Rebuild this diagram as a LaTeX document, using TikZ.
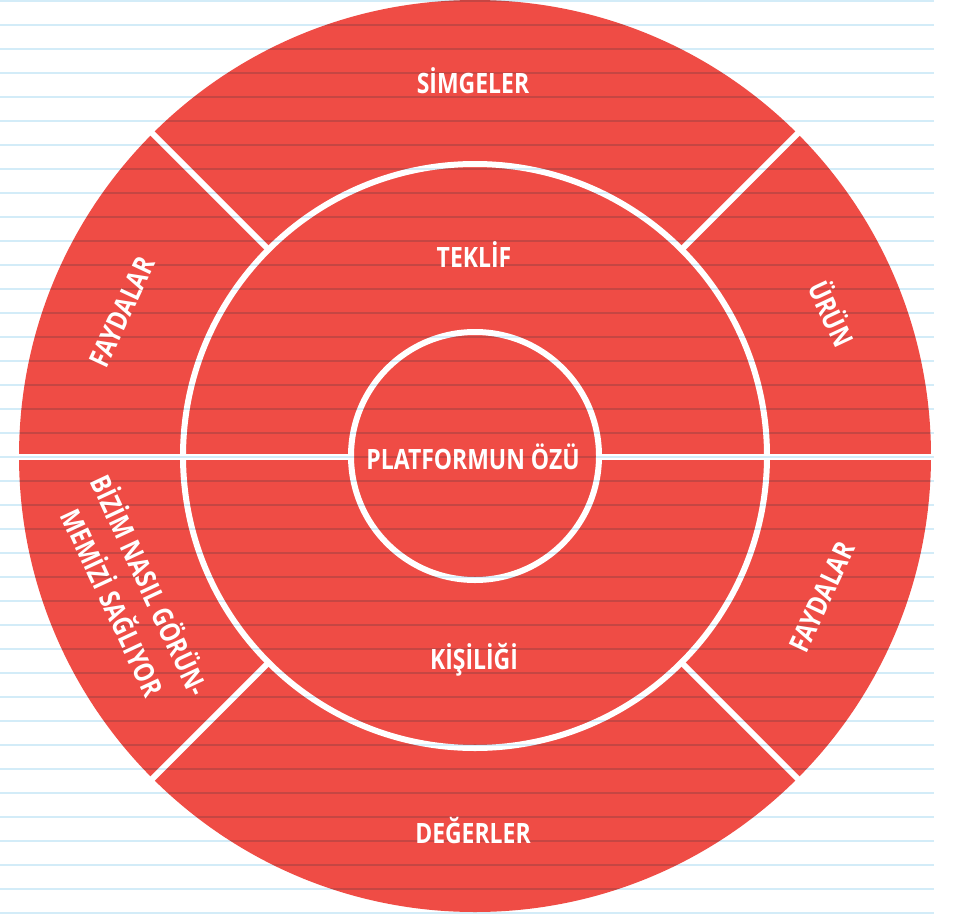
\documentclass[tikz,border=0pt]{standalone}
\usepackage{fontspec}
\setmainfont{Open Sans}[FakeStretch=0.82]
\usetikzlibrary{calc}
\definecolor{platred}{HTML}{EF4C45}
\definecolor{ruleblue}{HTML}{D3ECF8}
\tikzset{
  gap/.style={draw=white,line width=6pt},
  rule/.style={draw=ruleblue,line width=2pt},
  lbl/.style={text=white,font=\bfseries\fontsize{28}{33}\selectfont,align=center,inner sep=0pt}
}
\begin{document}
\begin{tikzpicture}[x=1pt,y=-1pt]
\useasboundingbox[fill=white] (0,0) rectangle (955,915);
\coordinate (c) at (475,456);
\fill[platred] (c) circle (456);
\draw[gap] (c) circle (292);
\draw[gap] (c) circle (124);
\draw[gap] (10,457) -- ($(c)+(-124,1)$);
\draw[gap] ($(c)+(124,1)$) -- (940,457);
\foreach \a in {45,135,225,315}
  \draw[gap] ($(c)+(\a:292)$) -- ($(c)+(\a:462)$);
\begin{scope}[blend mode=multiply]
\foreach \k in {0,...,38}
  \draw[rule] (0,{1+24*\k}) -- (934,{1+24*\k});
\end{scope}
\node[lbl] (simgeler) at (473,81) {SİMGELER};
\node[lbl] (teklif) at (474,255) {TEKLİF};
\node[lbl] (oz) at (473,457) {PLATFORMUN ÖZÜ};
\node[lbl] (kisiligi) at (474,660) {KİŞİLİĞİ};
\node[lbl] (degerler) at (473,831) {DEĞERLER};
\node[lbl,rotate=65] (faydalar1) at (122,312) {FAYDALAR};
\node[lbl,rotate=-65] (urun) at (833,313) {ÜRÜN};
\node[lbl,rotate=65] (faydalar2) at (822,597) {FAYDALAR};
\node[lbl,rotate=-65] (bizim) at (133,593) {BİZİM NASIL GÖRÜN-\\[8pt]MEMİZİ SAĞLIYOR};
\end{tikzpicture}
\end{document}
